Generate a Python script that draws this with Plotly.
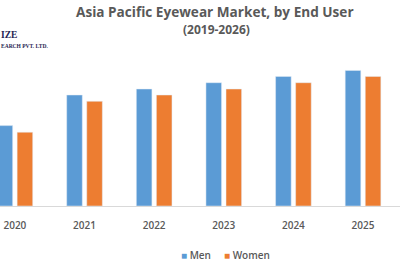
import plotly.graph_objects as go

years = ["2020", "2021", "2022", "2023", "2024", "2025"]
men = [13.4, 18.5, 19.5, 20.55, 21.6, 22.6]
women = [12.3, 17.45, 18.5, 19.5, 20.55, 21.6]

BLUE = "#5B9BD5"
ORANGE = "#ED7D31"
GRAY = "#595959"

W = 0.224
G = 0.032

fig = go.Figure()
fig.add_trace(go.Bar(x=years, y=men, name="Men", marker_color=BLUE,
                     width=W, offset=-(W + G), showlegend=False))
fig.add_trace(go.Bar(x=years, y=women, name="Women", marker_color=ORANGE,
                     width=W, offset=G, showlegend=False))

def py(pix):
    return (206 - pix) / 166.0

ann = [
    dict(text="<b>Asia Pacific Eyewear Market, by End User</b>", x=215.5 / 400, y=py(12),
         font=dict(family="Open Sans", size=13.6, color=GRAY)),
    dict(text="<b>(2019-2026)</b>", x=216.5 / 400, y=py(29),
         font=dict(family="Open Sans", size=12, color=GRAY)),
    dict(text="<b>IZE</b>", x=0, y=py(34.7), xanchor="left",
         font=dict(family="Liberation Serif", size=9.5, color="#1F2452")),
    dict(text="<b>EARCH PVT. LTD.</b>", x=0, y=py(45.7), xanchor="left",
         font=dict(family="Liberation Serif", size=5.5, color="#1F2452")),
    dict(text=f'<span style="color:{BLUE}">■</span> Men', x=195.5 / 400, y=py(255),
         font=dict(family="Open Sans", size=10, color=GRAY, weight=600)),
    dict(text=f'<span style="color:{ORANGE}">■</span> Women', x=246.5 / 400, y=py(255),
         font=dict(family="Open Sans", size=10, color=GRAY, weight=600)),
]
for a in ann:
    a.setdefault("xanchor", "center")
    a.update(xref="paper", yref="paper", yanchor="middle", showarrow=False, borderpad=0)

fig.update_layout(
    width=400, height=266,
    margin=dict(l=0, r=0, t=40, b=60),
    paper_bgcolor="white", plot_bgcolor="white",
    annotations=ann,
    showlegend=False,
    xaxis=dict(type="category", range=[-0.214, 5.531], showgrid=False,
               showline=True, linecolor="#D9D9D9", linewidth=1,
               ticks="outside", ticklen=10, tickcolor="rgba(0,0,0,0)",
               tickfont=dict(family="Open Sans", size=10, color=GRAY, weight=600)),
    yaxis=dict(range=[0, 27.67], visible=False, showgrid=False, zeroline=False),
)

fig.write_html("out.html")
